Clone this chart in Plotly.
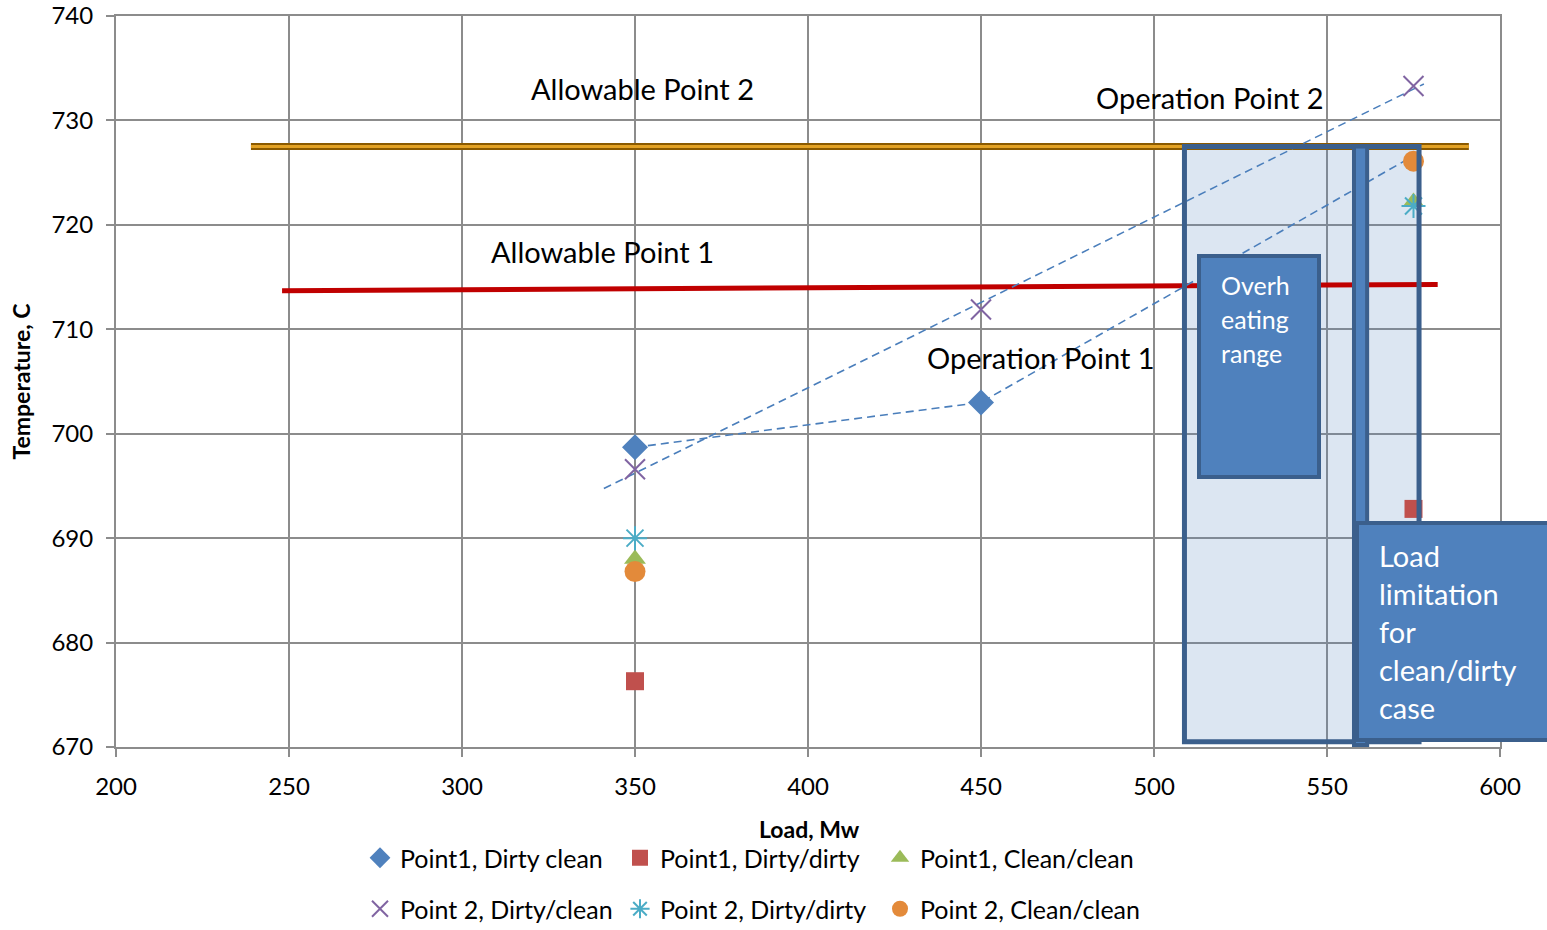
import numpy as np
import plotly.graph_objects as go

# ---- data ----
loads_p1_dc = [350, 450]
temp_p1_dc = [698.7, 703.0]                 # Point1, Dirty clean (markers)
line_p1_dc_x = [350, 450, 576]
line_p1_dc_y = [698.7, 703.0, 726.8]        # Point1, Dirty clean (connecting line)
loads_p1_dd = [350, 575]
temp_p1_dd = [676.3, 692.8]                 # Point1, Dirty/dirty
loads_p1_cc = [350, 575]
temp_p1_cc = [688.0, 722.2]                 # Point1, Clean/clean
loads_p2_dc = [350, 450, 575]
temp_p2_dc = [696.6, 711.9, 733.3]          # Point 2, Dirty/clean
loads_p2_dd = [350, 575]
temp_p2_dd = [690.0, 721.8]                 # Point 2, Dirty/dirty
loads_p2_cc = [350, 575]
temp_p2_cc = [686.8, 726.1]                 # Point 2, Clean/clean

allow2_x = [239, 591]
allow2_y = [727.5, 727.5]                   # Allowable Point 2
allow1_x = [248, 582]
allow1_y = [713.7, 714.3]                   # Allowable Point 1
trend_x_range = [341, 578]

x_ticks = [200, 250, 300, 350, 400, 450, 500, 550, 600]
y_ticks = [670, 680, 690, 700, 710, 720, 730, 740]

FONT = "Lato"
W, H = 1547, 930
L, R, T, B = 116, 47, 16, 183
PW, PH = W - L - R, H - T - B


def px(xp):
    return (xp - L) / PW


def py(yp):
    return (H - B - yp) / PH


fig = go.Figure()

# allowable lines
fig.add_trace(go.Scatter(x=allow2_x, y=allow2_y, mode="lines",
                         line=dict(color="#8B5A00", width=7), showlegend=False, hoverinfo="skip"))
fig.add_trace(go.Scatter(x=allow2_x, y=allow2_y, mode="lines",
                         line=dict(color="#E3A225", width=3), showlegend=False, hoverinfo="skip"))
fig.add_trace(go.Scatter(x=allow1_x, y=allow1_y, mode="lines",
                         line=dict(color="#C00000", width=5), showlegend=False, hoverinfo="skip"))

# trendline of Point 2 Dirty/clean
coef = np.polyfit(loads_p2_dc, temp_p2_dc, 1)
tx = np.array(trend_x_range, dtype=float)
fig.add_trace(go.Scatter(x=tx, y=np.polyval(coef, tx), mode="lines",
                         line=dict(color="#4A7EBB", width=1.6, dash="8px,5px"),
                         showlegend=False, hoverinfo="skip"))
# connecting line of Point1 Dirty clean
fig.add_trace(go.Scatter(x=line_p1_dc_x, y=line_p1_dc_y, mode="lines",
                         line=dict(color="#4A7EBB", width=1.6, dash="8px,5px"),
                         showlegend=False, hoverinfo="skip"))

fig.add_trace(go.Scatter(x=loads_p1_dc, y=temp_p1_dc, mode="markers", name="Point1, Dirty clean",
                         marker=dict(symbol="diamond", size=20, color="#4F81BD"), legend="legend"))
fig.add_trace(go.Scatter(x=loads_p1_dd, y=temp_p1_dd, mode="markers", name="Point1, Dirty/dirty",
                         marker=dict(symbol="square", size=18, color="#C0504D"), legend="legend"))
fig.add_trace(go.Scatter(x=loads_p1_cc, y=temp_p1_cc, mode="markers", name="Point1, Clean/clean",
                         marker=dict(symbol="triangle-up", size=19, color="#9BBB59"), legend="legend"))
fig.add_trace(go.Scatter(x=loads_p2_dc, y=temp_p2_dc, mode="markers", name="Point 2, Dirty/clean",
                         marker=dict(symbol="x-thin", size=20, line=dict(color="#8064A2", width=2)),
                         legend="legend2"))
fig.add_trace(go.Scatter(x=loads_p2_dd, y=temp_p2_dd, mode="markers", name="Point 2, Dirty/dirty",
                         marker=dict(symbol="asterisk", size=20, line=dict(color="#4BACC6", width=2)),
                         legend="legend2"))
fig.add_trace(go.Scatter(x=loads_p2_cc, y=temp_p2_cc, mode="markers", name="Point 2, Clean/clean",
                         marker=dict(symbol="circle", size=21, color="#E38A3A"), legend="legend2"))

BORDER = "#3B5F8C"
shapes = [
    dict(type="rect", xref="x", yref="y", x0=508.8, x1=576.6, y0=670.5, y1=727.5,
         fillcolor="rgba(79,129,189,0.2)", line=dict(width=0), layer="between"),
    dict(type="rect", xref="x", yref="y", x0=508.8, x1=576.6, y0=670.5, y1=727.5,
         fillcolor="rgba(0,0,0,0)", line=dict(color=BORDER, width=5), layer="above"),
    dict(type="rect", xref="x", yref="y", x0=557.8, x1=561.6, y0=670.2, y1=727.5,
         fillcolor="#4F81BD", line=dict(color=BORDER, width=4), layer="above"),
    dict(type="rect", xref="paper", yref="paper", x0=px(1199), x1=px(1319), y0=py(477), y1=py(256),
         fillcolor="#4F81BD", line=dict(color=BORDER, width=4), layer="above"),
    dict(type="rect", xref="paper", yref="paper", x0=px(1357), x1=px(1560), y0=py(740), y1=py(523),
         fillcolor="#4F81BD", line=dict(color=BORDER, width=4), layer="above"),
]

ann = []
for xx, yy, txt in [(642, 88, "Allowable Point 2"), (1210, 97, "Operation Point 2"),
                    (602, 251, "Allowable Point 1"), (1041, 357, "Operation Point 1")]:
    ann.append(dict(xref="paper", yref="paper", x=px(xx), y=py(yy), text=txt, showarrow=False,
                    xanchor="center", yanchor="middle",
                    font=dict(family=FONT, size=29, color="#000000")))
for yy, txt in [(285, "Overh"), (319, "eating"), (353, "range")]:
    ann.append(dict(xref="paper", yref="paper", x=px(1219), y=py(yy), text=txt, showarrow=False,
                    xanchor="left", yanchor="middle",
                    font=dict(family=FONT, size=25, color="#FFFFFF")))
for yy, txt in [(555, "Load"), (593, "limitation"), (631, "for"), (669, "clean/dirty"), (707, "case")]:
    ann.append(dict(xref="paper", yref="paper", x=px(1377), y=py(yy), text=txt, showarrow=False,
                    xanchor="left", yanchor="middle",
                    font=dict(family=FONT, size=29, color="#FFFFFF")))
# x-axis title
ann.append(dict(xref="paper", yref="paper", x=px(810), y=py(829), text="<b>Load, Mw</b>",
                showarrow=False, xanchor="center", yanchor="middle",
                font=dict(family=FONT, size=23, color="#000000")))

GRID = "#8C8C8C"
axis_common = dict(showgrid=True, gridcolor=GRID, gridwidth=2,
                   showline=True, linecolor=GRID, linewidth=2, mirror=True,
                   ticks="outside", ticklen=8, tickcolor=GRID, tickwidth=2,
                   tickfont=dict(family=FONT, size=24, color="#000000"), zeroline=False,
                   ticklabeloverflow="allow", automargin=False)
fig.update_layout(
    width=W, height=H,
    margin=dict(l=L, r=R, t=T, b=B, autoexpand=False),
    paper_bgcolor="white", plot_bgcolor="white",
    font=dict(family=FONT, size=22, color="#000000"),
    shapes=shapes, annotations=ann,
    xaxis=dict(range=[200, 600], tickvals=x_ticks, **axis_common, ticklabelstandoff=9),
    yaxis=dict(range=[670, 740], tickvals=y_ticks, **axis_common, ticklabelstandoff=8,
               title=dict(text="<b>Temperature, C</b>", font=dict(family=FONT, size=23), standoff=14)),
    legend=dict(orientation="h", x=px(360), xanchor="left", yref="container", y=1 - 858 / H,
                yanchor="middle", font=dict(family=FONT, size=25), entrywidth=215,
                itemwidth=30, bgcolor="rgba(0,0,0,0)"),
    legend2=dict(orientation="h", x=px(360), xanchor="left", yref="container", y=1 - 909 / H,
                 yanchor="middle", font=dict(family=FONT, size=25), entrywidth=215,
                 itemwidth=30, bgcolor="rgba(0,0,0,0)"),
)

fig.write_html("out.html", config={"displayModeBar": False},
               post_script="document.body.style.margin='0';")
